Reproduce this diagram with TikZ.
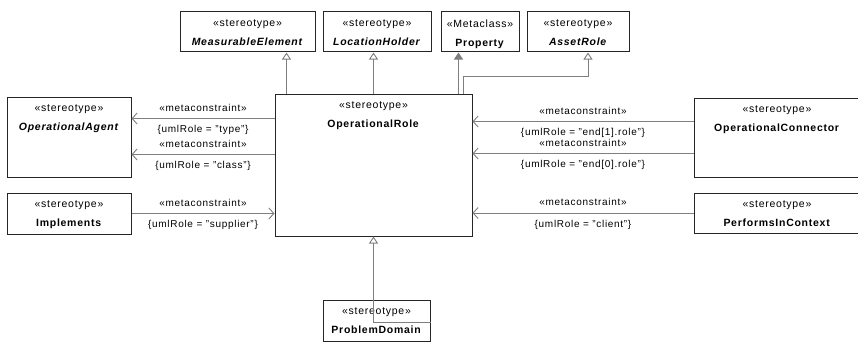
\documentclass[tikz,border=0pt]{standalone}
\usepackage{fontspec}
\setmainfont[LetterSpace=7]{Liberation Sans}
\usepackage{tikz}
\usetikzlibrary{arrows.meta, positioning, calc}
\definecolor{Frame}{HTML}{262626}
\definecolor{Wire}{HTML}{7F7F7F}

\begin{document}
\begin{tikzpicture}[
        x=1pt, y=-1pt,
        font=\fontsize{10.5}{19}\selectfont,
        cls/.style={draw=Frame, line width=1pt, fill=white, inner sep=0pt,
          label={[anchor=north, align=center, inner sep=0pt, yshift=-8pt]north:{#1}}},
        gen/.style={-{Triangle[open, length=7pt, width=9pt]}, color=Wire, line width=0.9pt},
        ext/.style={-{Triangle[length=7pt, width=9pt]}, color=Wire, line width=0.9pt},
        assoc/.style={-{Straight Barb[length=5pt, width=11pt]}, color=Wire, line width=0.9pt},
        tag/.style={font=\fontsize{10}{12}\selectfont, text=black, inner sep=6.5pt}
      ]
        \useasboundingbox (0,0) rectangle (858,353);

        \node[cls={«stereotype»\\\textbf{\textit{MeasurableElement}}}, minimum width=135pt, minimum height=40pt] (me) at (247.5,32) {};
        \node[cls={«stereotype»\\\textbf{\textit{LocationHolder}}}, minimum width=108pt, minimum height=40pt] (lh) at (377,32) {};
        \node[cls={«Metaclass»\\\textbf{Property}}, minimum width=78pt, minimum height=40pt] (prop) at (480,32) {};
        \node[cls={«stereotype»\\\textbf{\textit{AssetRole}}}, minimum width=102pt, minimum height=40pt] (as) at (578,32) {};

        \node[cls={«stereotype»\\\textbf{OperationalRole}}, minimum width=197pt, minimum height=142pt] (or) at (373.5,165) {};

        \node[cls={«stereotype»\\\textbf{\textit{OperationalAgent}}}, minimum width=124pt, minimum height=80pt] (oa) at (69,137) {};
        \node[cls={«stereotype»\\\textbf{Implements}}, minimum width=124pt, minimum height=41pt] (impl) at (69,213.5) {};

        \node[cls={«stereotype»\\\textbf{OperationalConnector}}, minimum width=166pt, minimum height=79pt] (oc) at (777,137.5) {};
        \node[cls={«stereotype»\\\textbf{PerformsInContext}}, minimum width=166pt, minimum height=40pt] (pic) at (777,213) {};

        \node[cls={«stereotype»\\\textbf{ProblemDomain}}, minimum width=107pt, minimum height=41pt] (pd) at (376.5,320.5) {};

        \draw[gen] ([xshift=12pt]or.north west) -- ([xshift=12pt]or.north west |- me.south);
        \draw[gen] (or.north) -- (or.north |- lh.south);
        \draw[ext] ([xshift=-14pt]or.north east) -- ([xshift=-14pt]or.north east |- prop.south);
        \draw[gen] ([xshift=-9pt]or.north east) |- ([xshift=10pt, yshift=-24pt]as.south) -- ([xshift=10pt]as.south);
        \draw[gen] ([yshift=-23pt]pd.north east) -| (or.south);

        \draw[assoc] ([yshift=-25pt]or.north west) -- ([yshift=-25pt]or.north west -| oa.east)
          node[tag, midway, above] {«metaconstraint»}
          node[tag, midway, below] {\{umlRole = "type"\}};
        \draw[assoc] ([yshift=-61pt]or.north west) -- ([yshift=-61pt]or.north west -| oa.east)
          node[tag, midway, above] {«metaconstraint»}
          node[tag, midway, below] {\{umlRole = "class"\}};
        \draw[assoc] (impl.east) -- (impl.east -| or.west)
          node[tag, midway, above] {«metaconstraint»}
          node[tag, midway, below] {\{umlRole = "supplier"\}};

        \draw[assoc] ([yshift=-24pt]oc.north west) -- ([yshift=-24pt]oc.north west -| or.east)
          node[tag, midway, above] {«metaconstraint»}
          node[tag, midway, below] {\{umlRole = "end[1].role"\}};
        \draw[assoc] ([yshift=-56pt]oc.north west) -- ([yshift=-56pt]oc.north west -| or.east)
          node[tag, midway, above] {«metaconstraint»}
          node[tag, midway, below] {\{umlRole = "end[0].role"\}};
        \draw[assoc] (pic.west) -- (pic.west -| or.east)
          node[tag, midway, above] {«metaconstraint»}
          node[tag, midway, below] {\{umlRole = "client"\}};
      \end{tikzpicture}
\end{document}
